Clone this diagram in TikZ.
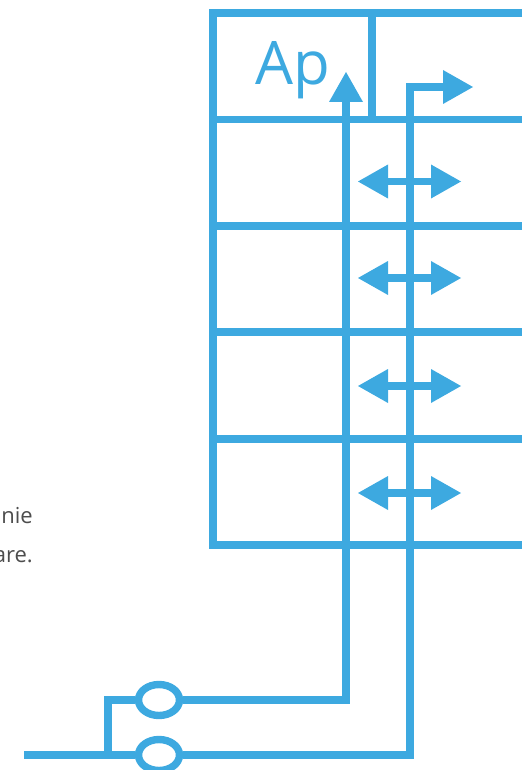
\documentclass[tikz,border=0pt]{standalone}
\usepackage{fontspec}
\setmainfont{Open Sans}
\definecolor{sky}{HTML}{3DA9E0}
\definecolor{ink}{HTML}{4D4D4D}
\tikzset{
  wire/.style={draw=sky,line width=7.4pt,line cap=butt,line join=miter},
  head/.style={fill=sky,draw=none},
  valve/.style={draw=sky,fill=white,line width=7.4pt,ellipse,minimum width=41pt,minimum height=31pt,inner sep=0pt},
  lbl/.style={text=ink,font=\fontsize{22}{24}\selectfont,inner sep=0pt,anchor=base east},
}
\usetikzlibrary{shapes.geometric}
\begin{document}
\begin{tikzpicture}[x=1pt,y=-1pt]
\useasboundingbox (0,0) rectangle (522,770);
\clip (0,0) rectangle (522,770);
% text fragments
\node[lbl] (t1) at (33,523) {nie};
\node[lbl] (t2) at (33,562) {are.};
\node[lbl] (t3) at (2,35) {n};
\node[lbl] (t4) at (2,74) {:};
% frame
\draw[wire] (522,13) -- (213,13) -- (213,545) -- (522,545);
\draw[wire] (209.5,119.5) -- (522,119.5);
\draw[wire] (213,226) -- (522,226);
\draw[wire] (213,332) -- (522,332);
\draw[wire] (213,439) -- (522,439);
\draw[wire] (372,13) -- (372,123);
\node[text=sky,font=\fontsize{60}{60}\selectfont,inner sep=0pt,anchor=base] (ap) at (292.5,85) {Ap};
% valves and wires
\coordinate (a1) at (346,100);
\coordinate (a2) at (445,87);
\node[valve] (v1) at (159,700) {};
\node[valve] (v2) at (159,755) {};
\coordinate (in) at (24,755);
\coordinate (br) at (108,755);
\draw[wire] (in) -- (v2);
\draw[wire] (br) -- (108,700) -- (v1);
\draw[wire] (v1) -- (346,700) -- (a1);
\draw[wire] (v2) -- (410,755) -- (410,87) -- (a2);
\fill[head] (346,72) -- (363,102) -- (329,102) -- cycle;
\fill[head] (473,87) -- (443,70) -- (443,104) -- cycle;
\foreach \y/\n in {181.5/a,278/b,386/c,493/d}{
  \coordinate (l\n) at (386,\y);
  \coordinate (r\n) at (434,\y);
  \draw[wire] (l\n) -- (r\n);
  \fill[head] (358,\y) -- (388,\y-17) -- (388,\y+17) -- cycle;
  \fill[head] (461,\y) -- (431,\y-17) -- (431,\y+17) -- cycle;
}
\end{tikzpicture}
\end{document}
